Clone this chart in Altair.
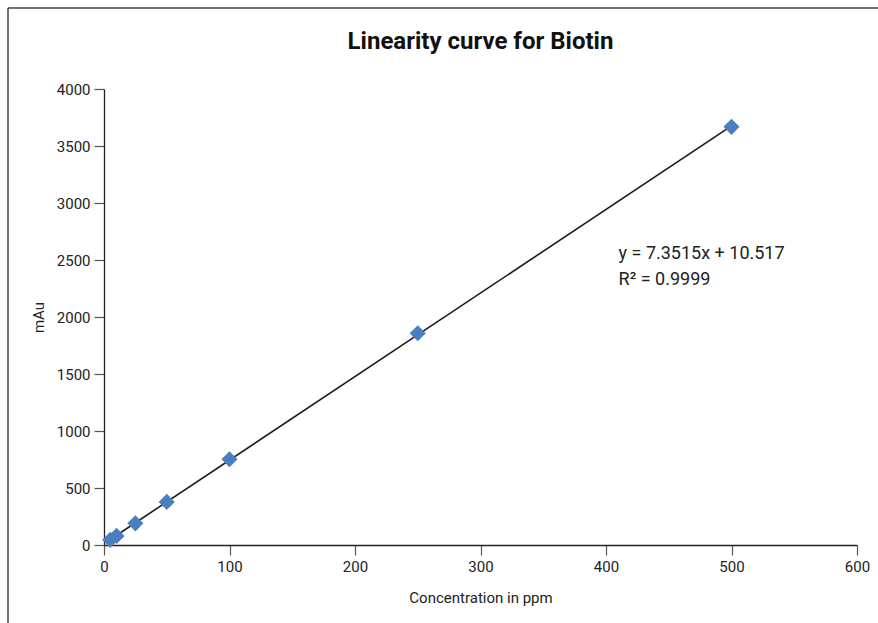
import altair as alt
import pandas as pd

conc = [5, 10, 25, 50, 100, 250, 500]
mau = [45, 80, 190, 378, 752, 1858, 3668]
x_ticks = [0, 100, 200, 300, 400, 500, 600]
y_ticks = [0, 500, 1000, 1500, 2000, 2500, 3000, 3500, 4000]
eq_lines = ["y = 7.3515x + 10.517", "R² = 0.9999"]
eq_x = [410, 410]
eq_y = [2553, 2325]

FONT = "Roboto, Liberation Sans, sans-serif"

df = pd.DataFrame({"conc": conc, "mau": mau})
eq = pd.DataFrame({"t": eq_lines, "x": eq_x, "y": eq_y})

xs = alt.Scale(domain=[0, 600], nice=False)
ys = alt.Scale(domain=[0, 4000], nice=False)

xax = alt.Axis(values=x_ticks, format="d", title="Concentration in ppm", grid=False,
               tickSize=10, labelPadding=4, titlePadding=16, labelFlush=False)
yax = alt.Axis(values=y_ticks, format="d", title="mAu", grid=False,
               tickSize=10, labelPadding=4, titlePadding=10, labelFlush=False)

base = alt.Chart(df)

line = base.transform_regression("conc", "mau").mark_line(
    color="#1a1a1a", strokeWidth=1.6
).encode(
    x=alt.X("conc:Q", scale=xs, axis=xax),
    y=alt.Y("mau:Q", scale=ys, axis=yax),
)

pts = base.mark_point(
    shape="diamond", filled=True, size=260, color="#4a7ebf", opacity=1
).encode(
    x=alt.X("conc:Q", scale=xs),
    y=alt.Y("mau:Q", scale=ys),
)

txt = alt.Chart(eq).mark_text(
    align="left", baseline="middle", fontSize=18, font=FONT, color="#222"
).encode(
    x=alt.X("x:Q", scale=xs),
    y=alt.Y("y:Q", scale=ys),
    text="t:N",
)

frame_data = alt.Data(values=[{}])
vrule = alt.Chart(frame_data).mark_rule(color="#444", strokeWidth=1.5).encode(
    x=alt.value(-96), y=alt.value(-81), y2=alt.value(600)
)
hrule = alt.Chart(frame_data).mark_rule(color="#444", strokeWidth=1.5).encode(
    x=alt.value(-96), x2=alt.value(800), y=alt.value(-81)
)

chart = alt.layer(vrule, hrule, line, pts, txt).properties(
    width=753,
    height=456,
    padding={"left": 104, "top": 89, "right": 21, "bottom": 78},
    autosize=alt.AutoSizeParams(type="none"),
    title=alt.TitleParams(
        "Linearity curve for Biotin", fontSize=24, font=FONT,
        fontWeight="bold", color="#111", offset=-47, anchor="middle"
    ),
).configure_view(stroke=None).configure_axis(
    labelFont=FONT, titleFont=FONT, labelFontSize=15, titleFontSize=15,
    labelColor="#222", titleColor="#222", titleFontWeight="normal",
    domainColor="#222", tickColor="#555", domainWidth=1.3, tickWidth=1.2,
)

chart.save("out.html", embed_options={"renderer": "svg", "actions": False})
